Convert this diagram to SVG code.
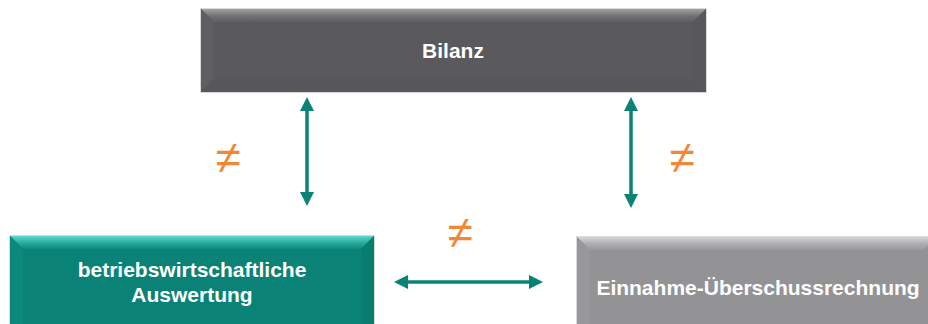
<svg xmlns="http://www.w3.org/2000/svg" width="928" height="324" viewBox="0 0 928 324">
<defs>
<linearGradient id="tDark" x1="0" y1="0" x2="0" y2="1"><stop offset="0" stop-color="#a2a2a4"/><stop offset="0.5" stop-color="#747476"/><stop offset="1" stop-color="#5e5e60"/></linearGradient>
<linearGradient id="tTeal" x1="0" y1="0" x2="0" y2="1"><stop offset="0" stop-color="#5ad8cc"/><stop offset="0.5" stop-color="#2aae9f"/><stop offset="1" stop-color="#10897c"/></linearGradient>
<linearGradient id="tGray" x1="0" y1="0" x2="0" y2="1"><stop offset="0" stop-color="#d6d6d8"/><stop offset="0.5" stop-color="#b0b0b2"/><stop offset="1" stop-color="#98989b"/></linearGradient>
<marker id="ah" viewBox="0 0 10 10" refX="5" refY="5" markerWidth="4" markerHeight="4" orient="auto-start-reverse" markerUnits="strokeWidth"><path d="M0,0 L10,5 L0,10 Z" fill="#0b8276"/></marker>
</defs>
<style>
.lbl{font-family:"Liberation Sans",Arial,sans-serif;font-weight:bold;font-size:21px;fill:#ffffff;text-anchor:middle}
.ne{font-family:"Liberation Sans",Arial,sans-serif;font-size:46px;fill:#f0883a;text-anchor:middle}
.con{stroke:#0b8276;stroke-width:3.5;fill:none;marker-start:url(#ah);marker-end:url(#ah)}
.edge{fill:none;stroke:#dadada;stroke-width:1}
</style>
<rect width="928" height="324" fill="#ffffff"/>

<g id="bilanz">
<rect class="edge" x="200.5" y="8.5" width="506" height="84"/>
<rect x="201" y="9" width="505" height="83" fill="#5a5a5c"/>
<polygon points="201,9 706,9 693,22 214,22" fill="url(#tDark)"/>
<polygon points="201,9 214,22 214,79 201,92" fill="#5f5f61"/>
<polygon points="706,9 693,22 693,79 706,92" fill="#58585a"/>
<polygon points="201,92 214,79 693,79 706,92" fill="#575759"/>
<text class="lbl" x="453" y="58" font-size="22">Bilanz</text>
</g>

<g id="bwa">
<rect class="edge" x="9.5" y="235.5" width="365" height="100"/>
<rect x="10" y="236" width="364" height="100" fill="#0b8276"/>
<polygon points="10,236 374,236 361,249 23,249" fill="url(#tTeal)"/>
<polygon points="10,236 23,249 23,336 10,336" fill="#0d897c"/>
<polygon points="374,236 361,249 361,336 374,336" fill="#0a7d71"/>
<text class="lbl" x="192" y="277">betriebswirtschaftliche</text>
<text class="lbl" x="192" y="302">Auswertung</text>
</g>

<g id="euer">
<rect class="edge" x="576.5" y="236.5" width="360" height="100"/>
<rect x="577" y="237" width="360" height="100" fill="#939396"/>
<polygon points="577,237 937,237 924,250 590,250" fill="url(#tGray)"/>
<polygon points="577,237 590,250 590,337 577,337" fill="#98989b"/>
<text class="lbl" x="758" y="295">Einnahme-Überschussrechnung</text>
</g>

<g id="connectors">
<line class="con" x1="307" y1="104" x2="307" y2="199"/>
<line class="con" x1="631" y1="104" x2="631" y2="201"/>
<line class="con" x1="401" y1="282" x2="536" y2="282"/>
</g>

<g id="labels">
<text class="ne" x="228" y="173">≠</text>
<text class="ne" x="682" y="173">≠</text>
<text class="ne" x="460" y="248">≠</text>
</g>
</svg>
